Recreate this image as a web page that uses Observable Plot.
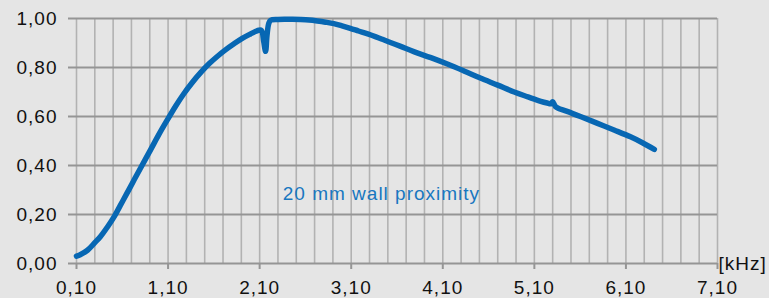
<!DOCTYPE html>
<html>
<head>
<meta charset="utf-8">
<script src="https://cdn.jsdelivr.net/npm/d3@7"></script>
<script src="https://cdn.jsdelivr.net/npm/@observablehq/plot@0.6"></script>
<style>
  html, body { margin: 0; padding: 0; background: #e5e5e5; }
  #chart svg { display: block; }
</style>
</head>
<body>
<div id="chart"></div>
<script>
// Frequency [kHz]
const freq = [0.10, 0.14, 0.22, 0.30, 0.36, 0.44, 0.51, 0.58, 0.65, 0.72, 0.80, 0.91, 1.00, 1.09, 1.18, 1.27, 1.36, 1.46, 1.55, 1.64, 1.73, 1.82, 1.91, 2.00, 2.06, 2.09, 2.12, 2.145, 2.165, 2.18, 2.20, 2.22, 2.30, 2.37, 2.46, 2.55, 2.64, 2.73, 2.82, 2.91, 3.00, 3.09, 3.18, 3.28, 3.37, 3.46, 3.55, 3.64, 3.79, 3.97, 4.15, 4.33, 4.51, 4.70, 4.88, 5.03, 5.17, 5.24, 5.28, 5.30, 5.33, 5.36, 5.45, 5.61, 5.79, 5.97, 6.15, 6.28, 6.41];
// Normalised response
const resp = [0.030, 0.036, 0.054, 0.085, 0.109, 0.150, 0.190, 0.238, 0.286, 0.335, 0.390, 0.465, 0.527, 0.585, 0.641, 0.692, 0.737, 0.781, 0.816, 0.846, 0.873, 0.897, 0.919, 0.937, 0.948, 0.952, 0.951, 0.905, 0.866, 0.930, 0.980, 0.993, 0.996, 0.997, 0.997, 0.996, 0.994, 0.990, 0.985, 0.979, 0.970, 0.960, 0.949, 0.937, 0.925, 0.912, 0.899, 0.886, 0.864, 0.840, 0.814, 0.786, 0.757, 0.728, 0.700, 0.680, 0.662, 0.655, 0.652, 0.660, 0.641, 0.634, 0.622, 0.599, 0.572, 0.545, 0.517, 0.493, 0.466];
// Tick values
const xTicks = [0.10, 1.10, 2.10, 3.10, 4.10, 5.10, 6.10, 7.10];
const yTicks = [0.00, 0.20, 0.40, 0.60, 0.80, 1.00];
const xGridLines = d3.range(0, 36).map(i => +(0.10 + i * 0.2).toFixed(2));
const seriesLabel = "20 mm wall proximity";
const unitLabel = "[kHz]";

const data = freq.map((f, i) => ({ f, r: resp[i] }));
const fmt = d => d.toFixed(2).replace(".", ",");

const chart = Plot.plot({
  width: 769,
  height: 298,
  marginLeft: 76,
  marginRight: 52,
  marginTop: 18,
  marginBottom: 35,
  style: {
    background: "#e5e5e5",
    fontFamily: "'Liberation Sans', Arial, sans-serif",
    fontSize: "19px",
    color: "#111",
    letterSpacing: "1px",
    overflow: "visible"
  },
  x: { domain: [0.1, 7.1] },
  y: { domain: [0, 1] },
  marks: [
    Plot.ruleX(xGridLines, { stroke: "#b2b2b2", strokeWidth: 1.6 }),
    Plot.ruleY(yTicks, { stroke: "#959595", strokeWidth: 2 }),
    Plot.axisY(yTicks, {
      tickSize: 8, tickPadding: 11, tickFormat: fmt,
      stroke: "#959595", strokeWidth: 2, strokeOpacity: 1,
      fill: "#111", fontSize: 19, label: null
    }),
    Plot.axisX(xTicks, {
      tickSize: 6, tickPadding: 11, tickFormat: fmt,
      stroke: "#959595", strokeWidth: 2, strokeOpacity: 1,
      fill: "#111", fontSize: 19, label: null
    }),
    Plot.line(data, {
      x: "f", y: "r", stroke: "#0767b3", strokeWidth: 5.5,
      strokeLinecap: "round", strokeLinejoin: "round", curve: "catmull-rom"
    }),
    Plot.text([seriesLabel], {
      x: 3.43, y: 0.286, text: d => d, fill: "#1877c0",
      fontSize: 19, textAnchor: "middle", lineAnchor: "middle"
    }),
    Plot.text([unitLabel], {
      x: 7.1, y: 0, text: d => d, fill: "#111", dx: 1,
      fontSize: 19, textAnchor: "start", lineAnchor: "middle"
    })
  ]
});
document.getElementById("chart").appendChild(chart);
</script>
</body>
</html>
